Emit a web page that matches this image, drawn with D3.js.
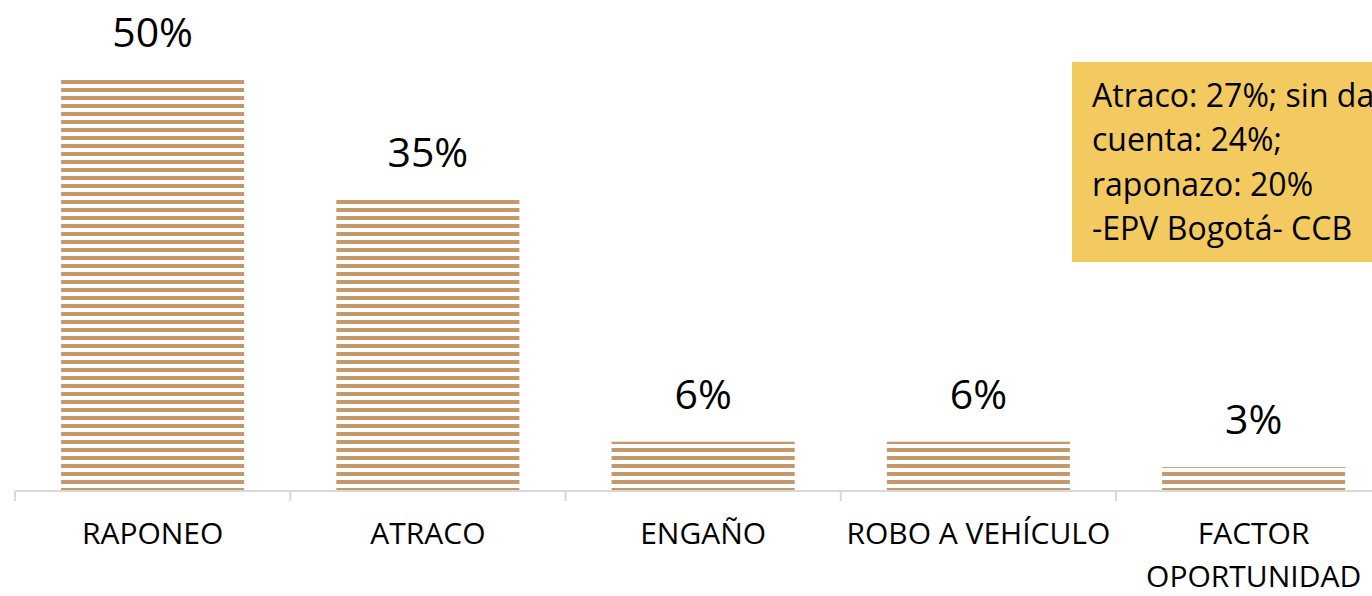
<!DOCTYPE html>
<html>
<head>
<meta charset="utf-8">
<script src="https://cdn.jsdelivr.net/npm/d3@7"></script>
<style>
  html, body { margin: 0; padding: 0; background: #fff; }
  svg { display: block; font-family: "Open Sans", "Noto Sans", sans-serif; }
</style>
</head>
<body>
<svg id="chart" width="1372" height="596"></svg>
<script>
// chart data
var categories = ["RAPONEO", "ATRACO", "ENGAÑO", "ROBO A VEHÍCULO", "FACTOR OPORTUNIDAD"];
var values = [50, 35.4, 6, 6, 2.9];
var noteLines = ["Atraco: 27%; sin dar", "cuenta: 24%;", "raponazo: 20%", "-EPV Bogotá- CCB"];

var svg = d3.select("#chart");
var baseY = 491;

// striped fill, like the excel pattern
var defs = svg.append("defs");
var pat = defs.append("pattern")
  .attr("id", "stripes")
  .attr("patternUnits", "userSpaceOnUse")
  .attr("width", 8)
  .attr("height", 8);
pat.append("rect")
  .attr("x", 0).attr("y", 0)
  .attr("width", 8).attr("height", 4)
  .attr("fill", "#c4986a");

var x = d3.scaleBand()
  .domain(categories)
  .range([15, 15 + 5 * 275.25])
  .padding(0);

var y = d3.scaleLinear()
  .domain([0, 50])
  .range([baseY, 80]);

var barW = x.bandwidth() * 0.665;

var data = categories.map(function (c, i) { return { cat: c, val: values[i] }; });

// bars
svg.selectAll(".bar")
  .data(data)
  .enter().append("rect")
  .attr("class", "bar")
  .attr("x", function (d) { return x(d.cat) + (x.bandwidth() - barW) / 2; })
  .attr("y", function (d) { return y(d.val); })
  .attr("width", barW)
  .attr("height", function (d) { return baseY - y(d.val); })
  .attr("fill", "url(#stripes)");

// axis
var axis = d3.axisBottom(x).tickSize(0).tickFormat("");
var gx = svg.append("g")
  .attr("transform", "translate(0," + baseY + ")")
  .call(axis);
gx.select(".domain").attr("stroke", "#d9d9d9").attr("stroke-width", 2)
  .attr("d", "M15,0H" + (15 + 5 * 275.25));

// tick marks at band edges
var edges = categories.map(function (c) { return x(c); });
gx.selectAll(".edge")
  .data(edges)
  .enter().append("line")
  .attr("class", "edge")
  .attr("x1", function (d) { return d; })
  .attr("x2", function (d) { return d; })
  .attr("y1", 0)
  .attr("y2", 10)
  .attr("stroke", "#d9d9d9")
  .attr("stroke-width", 2);

// category labels (wrapped)
svg.selectAll(".cat")
  .data(data)
  .enter().append("text")
  .attr("class", "cat")
  .attr("text-anchor", "middle")
  .attr("font-size", 30)
  .attr("fill", "#000")
  .each(function (d) {
    var lines = d.cat === "FACTOR OPORTUNIDAD" ? ["FACTOR", "OPORTUNIDAD"] : [d.cat];
    var t = d3.select(this);
    lines.forEach(function (l, i) {
      t.append("tspan")
        .attr("x", x(d.cat) + x.bandwidth() / 2)
        .attr("y", 544 + i * 43)
        .text(l);
    });
  });

// value labels
svg.selectAll(".val")
  .data(data)
  .enter().append("text")
  .attr("class", "val")
  .attr("text-anchor", "middle")
  .attr("font-size", 41)
  .attr("fill", "#000")
  .attr("x", function (d) { return x(d.cat) + x.bandwidth() / 2; })
  .attr("y", function (d) { return y(d.val) - 33; })
  .text(function (d) { return Math.round(d.val) + "%"; });

// note box
var note = svg.append("g");
note.append("rect")
  .attr("x", 1072).attr("y", 62)
  .attr("width", 320).attr("height", 200)
  .attr("fill", "#f2ca60");
note.selectAll("text")
  .data(noteLines)
  .enter().append("text")
  .attr("x", 1092)
  .attr("y", function (d, i) { return 107 + i * 44.4; })
  .attr("font-size", 32)
  .attr("fill", "#000")
  .text(function (d) { return d; });
</script>
</body>
</html>
